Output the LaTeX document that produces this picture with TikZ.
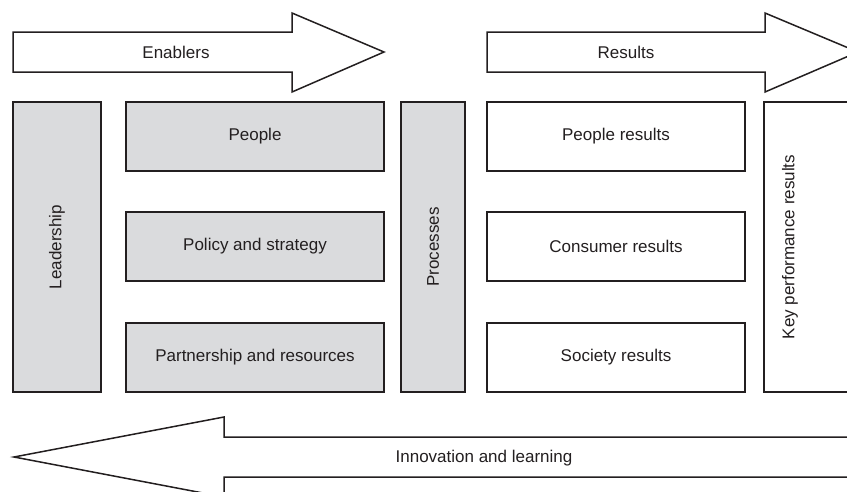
\documentclass[tikz,border=0pt]{standalone}
\usepackage{fontspec}
\setmainfont{Liberation Sans}
\definecolor{boxgray}{HTML}{DADBDD}
\definecolor{ink}{HTML}{231F20}
\tikzset{
    every node/.style={font=\fontsize{17}{20}\selectfont, text=ink},
    enabler/.style={draw=ink, line width=1.5pt, fill=boxgray, inner sep=0pt},
    result/.style={draw=ink, line width=1.5pt, fill=white, inner sep=0pt},
    bigarrow/.style={draw=ink, line width=1.5pt, fill=white, line join=miter},
}

\begin{document}
\begin{tikzpicture}[x=1pt, y=-1pt]

                \useasboundingbox (0,0) rectangle (847,491);
                \clip (0,0) rectangle (847,491);

                % arrows
                \draw[bigarrow] (13,32) -- (292,32) -- (292,13) -- (384,52) -- (292,92) -- (292,72) -- (13,72) -- cycle;
                \node (enablers) at (176,52) {Enablers};
                \draw[bigarrow] (487,32) -- (765,32) -- (765,13) -- (858,52) -- (765,92) -- (765,72) -- (487,72) -- cycle;
                \node (results) at (626,52) {Results};
                \draw[bigarrow] (900,437) -- (224,437) -- (224,417) -- (14,457) -- (224,497) -- (224,477) -- (900,477) -- cycle;
                \node (innovation) at (484,458) {Innovation and learning};

                % enablers
                \node[enabler, minimum width=88pt, minimum height=290pt] (leadership) at (57,247) {};
                \node[rotate=90] at (leadership) {Leadership};
                \node[enabler, minimum width=258pt, minimum height=69pt] (people) at (255,136.5) {People};
                \node[enabler, minimum width=258pt, minimum height=69pt] (policy) at (255,246.5) {Policy and strategy};
                \node[enabler, minimum width=258pt, minimum height=69pt] (partnership) at (255,357.5) {Partnership and resources};
                \node[enabler, minimum width=64pt, minimum height=290pt] (processes) at (433,247) {};
                \node[rotate=90] at (processes) {Processes};

                % results
                \node[result, minimum width=258pt, minimum height=69pt] (peopleres) at (616,136.5) {People results};
                \node[result, minimum width=258pt, minimum height=69pt] (consumerres) at (616,246.5) {Consumer results};
                \node[result, minimum width=258pt, minimum height=69pt] (societyres) at (616,357.5) {Society results};
                \node[result, minimum width=120pt, minimum height=290pt] (keyres) at (824,247) {};
                \node[rotate=90] at (790,247) {Key performance results};
            \end{tikzpicture}
\end{document}
